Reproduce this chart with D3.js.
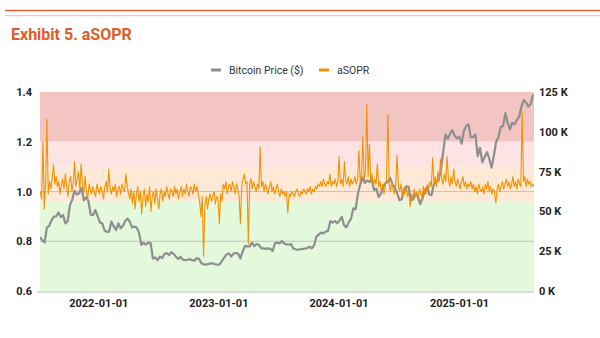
<!DOCTYPE html>
<html>
<head>
<meta charset="utf-8">
<script src="https://cdn.jsdelivr.net/npm/d3@7"></script>
<style>
  body { margin: 0; background: #fff; }
  svg { display: block; font-family: Roboto, "Noto Sans", sans-serif; }
</style>
</head>
<body>
<svg id="chart" width="600" height="338"></svg>
<script>
// weekly bitcoin close (thousand $), first point 2021-07-08
const priceStart = "2021-07-08";
const priceStepDays = 7;
const btcPrice = [
  33.8, 31.8, 30.5, 39.8, 40.9, 44.4, 46.7, 46.9, 49.3, 46.4, 47.7, 42.5, 43.8,
  53.9, 57.4, 63.0, 60.6, 61.4, 64.9, 56.9, 58.9, 56.5, 48.0, 47.6, 50.8, 47.1,
  // 2022
  43.1, 42.6, 38.0, 37.2, 37.3, 43.6, 40.6, 38.3, 42.5, 39.4, 40.9, 44.0, 45.5,
  43.5, 39.9, 40.5, 39.7, 36.5, 28.9, 30.3, 29.2, 30.4, 30.1, 20.4, 21.1, 19.3,
  21.6, 20.6, 23.2, 23.8, 22.6, 24.4, 23.3, 21.6, 20.1, 21.4, 19.7, 19.4, 19.6,
  20.0, 19.4, 19.0, 20.6, 20.2, 17.6, 16.7, 16.6, 17.0, 17.2, 17.4, 16.8, 16.6,
  // 2023
  16.8, 18.9, 21.1, 23.0, 23.7, 21.6, 23.5, 23.9, 23.5, 20.4, 25.0, 28.3, 28.0,
  28.0, 30.4, 28.2, 29.5, 29.0, 26.9, 26.8, 26.5, 26.8, 26.5, 25.1, 30.0, 30.4,
  29.9, 31.4, 29.8, 29.3, 29.2, 29.4, 26.6, 26.2, 25.9, 26.2, 26.5, 26.6, 27.0,
  27.8, 26.8, 28.7, 34.2, 35.4, 36.7, 36.2, 37.3, 37.7, 43.8, 43.0, 43.9, 42.6,
  // 2024
  44.2, 46.6, 41.3, 40.0, 43.1, 45.3, 51.9, 51.3, 61.2, 66.9, 71.4, 67.9, 69.5,
  68.5, 70.0, 63.5, 64.3, 59.1, 61.2, 65.2, 67.9, 68.4, 71.1, 66.8, 64.9, 61.6,
  57.0, 57.7, 64.0, 65.8, 65.4, 57.0, 57.5, 61.1, 59.4, 54.5, 58.1, 62.9, 65.2,
  60.7, 60.3, 67.4, 68.2, 70.2, 75.9, 87.2, 98.3, 95.6, 98.8, 101.1, 97.5, 95.8,
  // 2025
  96.9, 92.5, 100.5, 103.7, 104.7, 96.6, 96.6, 98.3, 84.7, 89.9, 80.9, 84.2, 87.2,
  83.1, 77.5, 84.9, 93.9, 96.5, 103.2, 103.6, 111.7, 105.6, 101.6, 105.7, 104.7,
  107.3, 109.6, 116.0, 119.9, 118.4, 115.8, 117.5, 123.5
];

// aSOPR every 4 days, first point 2021-07-09
const soprStart = "2021-07-09";
const soprStepDays = 4;
const asopr = [
  1.00, 0.97, 1.20, 0.93, 1.03, 1.29, 0.99,
  1.04, 1.01, 1.05, 1.107, 1.03, 1.06, 1.02, 1.04, 0.99, 1.03, 1.05, 1.01, 1.07,
  1.02, 0.98, 1.04, 1.06, 1.00, 1.03, 1.12, 1.02, 1.05, 1.08, 1.01, 1.11, 1.03,
  0.99, 1.06, 1.00, 0.97, 1.03,
  1.01, 0.99, 1.02, 1.00, 0.98, 1.03, 1.01, 0.99, 1.02, 1.00, 0.97, 1.02, 1.04,
  1.00, 1.09, 1.01, 0.99, 1.02, 1.00, 1.03, 0.98, 1.01, 1.02, 0.99, 1.03, 1.01,
  1.00, 1.07, 1.02, 0.99, 0.97, 1.01, 0.95, 1.00, 0.93, 0.99, 1.02, 0.96, 1.00,
  0.91, 0.98, 1.01, 0.94, 0.99, 0.96, 1.02, 0.92, 0.98, 1.00, 0.95, 1.01, 0.97,
  0.93, 0.99, 1.01, 0.96, 1.00, 0.98, 1.02, 0.99, 0.97, 1.01, 1.00, 0.98, 1.02,
  0.99, 1.01, 0.97, 1.00, 1.02, 0.98, 1.01, 0.99, 1.03, 1.00, 0.98, 1.02, 1.01,
  0.99, 1.03, 1.00, 1.02, 0.99,
  0.96, 0.90, 0.98, 0.74, 0.95, 0.98, 0.93, 0.97,
  0.99, 0.96, 0.98, 1.00, 0.95, 0.98, 0.97, 0.87, 0.99, 0.96,
  1.03, 1.01, 1.04, 0.99, 1.02, 1.03, 1.00, 1.04, 1.02, 0.99, 1.03, 1.01, 0.98,
  0.87, 1.02,
  1.05, 1.07, 1.03, 1.04, 0.79,
  1.03, 1.05, 1.01, 1.04, 1.02, 1.00, 1.03, 1.01, 1.18, 1.02, 1.04, 1.00, 1.03,
  1.01, 0.99, 1.02, 1.04, 1.00, 1.02, 0.99, 1.01, 1.03, 1.00, 0.98, 1.01, 0.99,
  1.00, 0.98, 1.00, 0.915,
  0.99, 0.98, 1.00, 0.99, 0.98, 1.00, 1.01, 0.99, 0.98, 1.00, 0.99, 1.01, 1.00,
  0.99, 1.01, 1.00, 1.02, 0.99, 1.01, 1.00, 1.02, 1.01,
  1.03, 1.02, 1.04, 1.02, 1.05, 1.03, 1.02, 1.04, 1.03, 1.07, 1.02, 1.04, 1.03,
  1.05, 1.02, 1.04, 1.14, 1.03, 1.05, 1.02, 1.12, 1.04, 1.03, 1.06, 1.02, 1.05,
  1.03, 1.04,
  1.06, 1.03, 1.05, 1.165, 1.04, 1.07, 1.22, 1.05, 1.08, 1.35, 1.06, 1.19, 1.04,
  1.07, 1.02, 1.05, 1.03, 1.11,
  1.02, 1.04, 1.00, 1.03, 0.99, 1.02, 1.05, 1.31, 1.03, 1.00, 1.04, 1.01, 0.99,
  1.03, 1.146, 1.02, 1.00, 1.03, 0.98, 1.01, 0.99, 1.02, 0.98, 1.00, 0.94, 0.99,
  0.97, 1.01, 0.98, 1.00, 0.97, 1.01, 0.99, 0.98, 1.02, 1.00, 0.99, 1.03, 1.01,
  1.04, 1.02,
  1.134, 1.03, 1.06, 1.02, 1.08, 1.04, 1.13, 1.05, 1.03, 1.07, 1.04, 1.14, 1.05,
  1.02, 1.06, 1.03, 1.09, 1.04, 1.02, 1.05, 1.03, 1.01, 1.04, 1.06, 1.02, 1.04,
  1.01, 1.03, 1.02, 1.04,
  1.01, 1.03, 1.00, 1.02, 0.99, 1.03, 1.01, 1.00, 1.02, 0.99, 1.03, 1.01, 1.04,
  1.00, 1.02, 0.99, 1.01, 1.00, 0.953, 1.01, 1.03, 1.00, 1.02, 1.04, 1.01, 1.03,
  1.05, 1.02, 1.04, 1.01, 1.03, 1.06, 1.02, 1.04, 1.01, 1.05, 1.03, 1.02,
  1.32,
  1.04, 1.06, 1.02, 1.05, 1.03, 1.04, 1.02, 1.03, 1.02
];

// background zones on the aSOPR axis
const zoneFrom = [1.2, 1.1, 0.96, 0.6];
const zoneTo = [1.4, 1.2, 1.1, 0.96];
const zoneColors = ["#f2c4c2", "#fde3e3", "#fde9d6", "#e4f8dc"];

const leftTicks = [0.6, 0.8, 1.0, 1.2, 1.4];
const rightTicks = [0, 25, 50, 75, 100, 125];
const dateTicks = ["2022-01-01", "2023-01-01", "2024-01-01", "2025-01-01"];

const seriesNames = ["Bitcoin Price ($)", "aSOPR"];
const seriesColors = ["#8e8e8e", "#f39200"];

const parse = d3.utcParse("%Y-%m-%d");
const margin = {top: 92, right: 66, bottom: 47, left: 40};
const width = 600, height = 338;

const svg = d3.select("#chart");

// header rules + title
svg.append("line").attr("x1", 5).attr("x2", 600).attr("y1", 10.5).attr("y2", 10.5)
    .attr("stroke", "#e2612c").attr("stroke-width", 1.5);
svg.append("line").attr("x1", 5).attr("x2", 600).attr("y1", 15.5).attr("y2", 15.5)
    .attr("stroke", "#d8d4d0").attr("stroke-width", 1.5);
svg.append("text").attr("x", 11).attr("y", 40)
    .attr("fill", "#e05a2b").attr("font-size", 16).attr("font-weight", 700)
    .text("Exhibit 5. aSOPR");

const x = d3.scaleUtc()
    .domain([parse("2021-07-08"), parse("2025-08-17")])
    .range([margin.left, width - margin.right]);
const y = d3.scaleLinear().domain([0.6, 1.4]).range([height - margin.bottom, margin.top]);
const y2 = d3.scaleLinear().domain([0, 125]).range([height - margin.bottom, margin.top]);

// zones
svg.append("g").selectAll("rect")
    .data(zoneColors)
    .join("rect")
    .attr("x", margin.left)
    .attr("width", width - margin.right - margin.left)
    .attr("y", (d, i) => y(zoneTo[i]))
    .attr("height", (d, i) => y(zoneFrom[i]) - y(zoneTo[i]))
    .attr("fill", d => d);

// gridlines
svg.append("g").selectAll("line")
    .data([0.8, 1.0])
    .join("line")
    .attr("x1", margin.left).attr("x2", width - margin.right)
    .attr("y1", d => y(d)).attr("y2", d => y(d))
    .attr("stroke", "#b9b9b9").attr("stroke-width", 0.8);

// baseline
svg.append("line")
    .attr("x1", 37).attr("x2", width - margin.right)
    .attr("y1", y(0.6) + 1).attr("y2", y(0.6) + 1)
    .attr("stroke", "#dcdcdc").attr("stroke-width", 2);

// axes
const tickStyle = g => {
    g.select(".domain").remove();
    g.selectAll(".tick line").remove();
    g.selectAll("text").attr("fill", "#222").attr("font-size", 11)
        .attr("font-weight", 700).attr("font-family", "Roboto, sans-serif");
};

svg.append("g")
    .attr("transform", `translate(${margin.left},0)`)
    .call(d3.axisLeft(y).tickValues(leftTicks).tickFormat(d3.format(".1f")).tickSize(0).tickPadding(8))
    .call(tickStyle);

svg.append("g")
    .attr("transform", `translate(${width - margin.right},0)`)
    .call(d3.axisRight(y2).tickValues(rightTicks).tickFormat(d => d + " K").tickSize(0).tickPadding(5))
    .call(tickStyle);

svg.append("g")
    .attr("transform", `translate(0,${height - margin.bottom})`)
    .call(d3.axisBottom(x).tickValues(dateTicks.map(parse)).tickFormat(d3.utcFormat("%Y-%m-%d")).tickSize(0).tickPadding(8))
    .call(tickStyle);

// data lines
svg.append("clipPath").attr("id", "plot-clip")
    .append("rect")
    .attr("x", margin.left).attr("y", margin.top)
    .attr("width", width - margin.right - margin.left)
    .attr("height", height - margin.bottom - margin.top);

const priceDates = btcPrice.map((d, i) => d3.utcDay.offset(parse(priceStart), i * priceStepDays));
const soprDates = asopr.map((d, i) => d3.utcDay.offset(parse(soprStart), i * soprStepDays));

const plot = svg.append("g").attr("clip-path", "url(#plot-clip)");

plot.append("path")
    .datum(btcPrice)
    .attr("fill", "none")
    .attr("stroke", seriesColors[0])
    .attr("stroke-width", 2.2)
    .attr("stroke-linejoin", "round")
    .attr("d", d3.line().x((d, i) => x(priceDates[i])).y(d => y2(d)));

plot.append("path")
    .datum(asopr)
    .attr("fill", "none")
    .attr("stroke", seriesColors[1])
    .attr("stroke-width", 1.1)
    .attr("stroke-linejoin", "round")
    .attr("d", d3.line().x((d, i) => x(soprDates[i])).y(d => y(d)));

// legend
const legendX = [211, 319];
const legend = svg.append("g").selectAll("g")
    .data(seriesNames)
    .join("g")
    .attr("transform", (d, i) => `translate(${legendX[i]},70)`);

legend.append("rect")
    .attr("x", 0).attr("y", -1.5).attr("width", 10).attr("height", 3)
    .attr("fill", (d, i) => seriesColors[i]);

legend.append("text")
    .attr("x", 18).attr("y", 4)
    .attr("font-size", 10.5).attr("fill", "#333")
    .text(d => d);
</script>
</body>
</html>
